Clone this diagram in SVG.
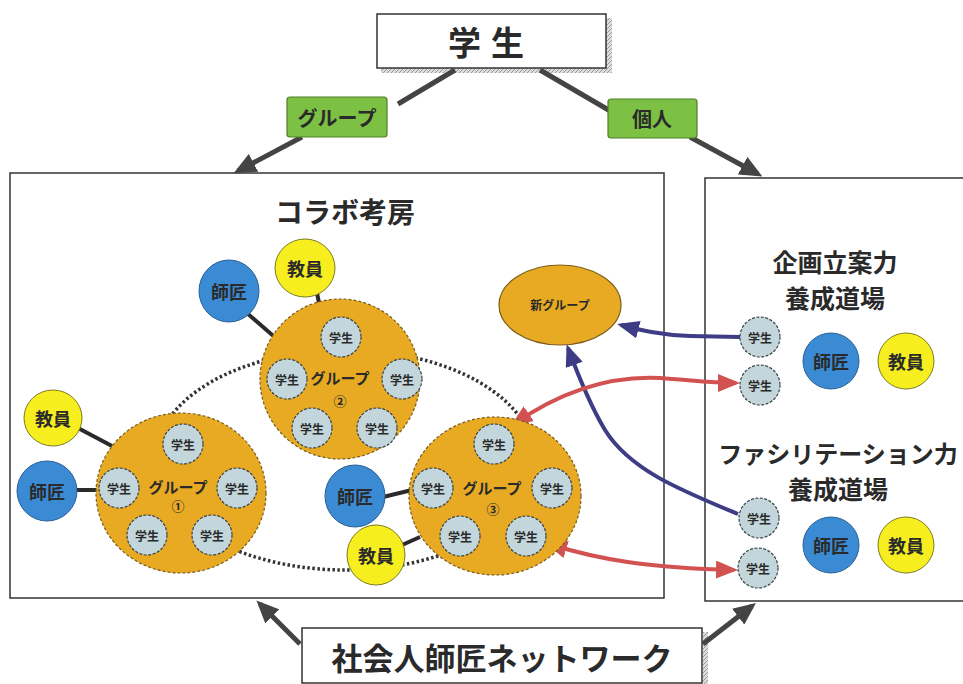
<svg xmlns="http://www.w3.org/2000/svg" width="963" height="684" viewBox="0 0 963 684">
<defs>
<style>
text{font-family:"Noto Sans CJK JP","Noto Sans",sans-serif;font-weight:bold;text-anchor:middle;dominant-baseline:central;fill:#2a2a2a}
.grp{fill:#e8aa22;stroke:#7a5c1a;stroke-width:1.2;stroke-dasharray:3 2}
.stu{fill:#c3d6db;stroke:#3a4448;stroke-width:1.2;stroke-dasharray:3 1.5}
.stu-t{font-size:12px}
.blue{fill:#3b8ad4;stroke:#2a5f96;stroke-width:1}
.yel{fill:#f6ee1e;stroke:#7d7a20;stroke-width:1}
.nt{font-size:18px}
.link{stroke:#2a2a2a;stroke-width:4}
.frame{fill:#fff;stroke:#333;stroke-width:1.5}
.lbl{fill:#7cc143;stroke:#4f7f28;stroke-width:1.2}
.gray{stroke:#444;stroke-width:5;fill:none}
.navy{stroke:#3f3c86;stroke-width:4;fill:none}
.red{stroke:#d25252;stroke-width:4;fill:none}
</style>
<marker id="ag" markerWidth="4.5" markerHeight="4" refX="3.5" refY="2" orient="auto" markerUnits="strokeWidth"><path d="M0,0 L4.5,2 L0,4 z" fill="#444"/></marker>
<marker id="an" markerWidth="5.5" markerHeight="4.5" refX="4.5" refY="2.25" orient="auto" markerUnits="strokeWidth"><path d="M0,0 L5.5,2.25 L0,4.5 z" fill="#3f3c86"/></marker>
<marker id="ar" markerWidth="5.5" markerHeight="4.5" refX="4.5" refY="2.25" orient="auto" markerUnits="strokeWidth"><path d="M0,0 L5.5,2.25 L0,4.5 z" fill="#d25252"/></marker>
<marker id="ars" markerWidth="5.5" markerHeight="4.5" refX="1" refY="2.25" orient="auto" markerUnits="strokeWidth"><path d="M5.5,0 L0,2.25 L5.5,4.5 z" fill="#d25252"/></marker>
<pattern id="hatch" width="4" height="4" patternUnits="userSpaceOnUse"><rect width="4" height="4" fill="#ddd"/><path d="M0,4 L4,0" stroke="#999" stroke-width="1"/></pattern>
</defs>

<!-- frames -->
<g id="collab-box">
<rect class="frame" x="10" y="173" width="654" height="425"/>
<text x="345" y="211" font-size="28">コラボ考房</text>
</g>
<g id="dojo-box">
<rect class="frame" x="705" y="178" width="270" height="423"/>
<text x="835" y="261" font-size="25">企画立案力</text>
<text x="835" y="297" font-size="25">養成道場</text>
<text x="838" y="452" font-size="24">ファシリテーション力</text>
<text x="838" y="488" font-size="25">養成道場</text>
</g>

<g id="student-top">
<rect x="381" y="67" width="231" height="6" fill="url(#hatch)"/>
<rect x="606" y="18" width="6" height="55" fill="url(#hatch)"/>
<rect class="frame" x="377" y="14" width="229" height="54"/>
<text x="491" y="41" font-size="33" letter-spacing="10">学生</text>
</g>

<g id="network">
<rect x="703" y="632" width="5" height="52" fill="url(#hatch)"/>
<rect class="frame" x="302" y="628" width="400" height="55"/>
<text x="502" y="656" font-size="31">社会人師匠ネットワーク</text>
</g>

<!-- connectors -->
<g id="connectors">
<line class="gray" x1="455" y1="70" x2="398" y2="104"/>
<line class="gray" x1="302" y1="137" x2="238" y2="171" marker-end="url(#ag)"/>
<line class="gray" x1="540" y1="70" x2="612" y2="112"/>
<line class="gray" x1="690" y1="137" x2="758" y2="174" marker-end="url(#ag)"/>
<line class="gray" x1="300" y1="644" x2="260" y2="604" marker-end="url(#ag)"/>
<line class="gray" x1="703" y1="644" x2="752" y2="606" marker-end="url(#ag)"/>

<ellipse cx="345" cy="460" rx="190" ry="110" fill="none" stroke="#333" stroke-width="3.5" stroke-dasharray="2.5 2.5"/>

<line class="link" x1="248" y1="314" x2="278" y2="340"/>
<line class="link" x1="317" y1="293" x2="322" y2="318"/>
<line class="link" x1="78" y1="428" x2="112" y2="446"/>
<line class="link" x1="76" y1="490" x2="98" y2="490"/>
<line class="link" x1="383" y1="497" x2="412" y2="490"/>
<line class="link" x1="402" y1="545" x2="420" y2="537"/>

<path class="navy" d="M740,337 L690,336 C660,335 640,330 621,325" marker-end="url(#an)"/>
<path class="navy" d="M738,514 C680,490 630,470 605,430 C590,405 578,375 568,348" marker-end="url(#an)"/>
<path class="red" d="M514,424 C570,385 620,376 660,378 C690,380 710,383 736,383" marker-start="url(#ars)" marker-end="url(#ar)"/>
<path class="red" d="M549,544 C600,560 650,568 734,570" marker-start="url(#ars)" marker-end="url(#ar)"/>
</g>

<!-- labels -->
<g id="label-group">
<rect class="lbl" x="287" y="97" width="100" height="40" rx="3"/>
<text x="337" y="117" font-size="20" font-weight="normal">グループ</text>
</g>
<g id="label-individual">
<rect class="lbl" x="608" y="99" width="89" height="39" rx="3"/>
<text x="652" y="118" font-size="20" font-weight="normal">個人</text>
</g>

<!-- group 2 -->
<g id="group2">
<circle class="grp" cx="340" cy="379" r="80"/>
<text x="340" y="377" font-size="15">グループ</text>
<text x="340" y="400" font-size="13" font-weight="normal">②</text>
<circle class="stu" cx="341" cy="337" r="20"/><text class="stu-t" x="341" y="337">学生</text>
<circle class="stu" cx="287" cy="379" r="20"/><text class="stu-t" x="287" y="379">学生</text>
<circle class="stu" cx="402" cy="379" r="20"/><text class="stu-t" x="402" y="379">学生</text>
<circle class="stu" cx="312" cy="428" r="20"/><text class="stu-t" x="312" y="428">学生</text>
<circle class="stu" cx="377" cy="428" r="20"/><text class="stu-t" x="377" y="428">学生</text>
</g>
<g id="group2-shisho"><ellipse class="blue" cx="229" cy="291" rx="30" ry="31"/><text class="nt" x="229" y="291">師匠</text></g>
<g id="group2-kyoin"><ellipse class="yel" cx="305" cy="268" rx="30" ry="29"/><text class="nt" x="305" y="268">教員</text></g>

<!-- group 1 -->
<g id="group1">
<ellipse class="grp" cx="181" cy="493" rx="85" ry="80"/>
<text x="178" y="486" font-size="15">グループ</text>
<text x="178" y="505" font-size="13" font-weight="normal">①</text>
<circle class="stu" cx="183" cy="444" r="20"/><text class="stu-t" x="183" y="444">学生</text>
<circle class="stu" cx="119" cy="488" r="20"/><text class="stu-t" x="119" y="488">学生</text>
<circle class="stu" cx="237" cy="488" r="20"/><text class="stu-t" x="237" y="488">学生</text>
<circle class="stu" cx="147" cy="535" r="20"/><text class="stu-t" x="147" y="535">学生</text>
<circle class="stu" cx="212" cy="535" r="20"/><text class="stu-t" x="212" y="535">学生</text>
</g>
<g id="group1-kyoin"><ellipse class="yel" cx="53" cy="418" rx="29" ry="28"/><text class="nt" x="53" y="418">教員</text></g>
<g id="group1-shisho"><ellipse class="blue" cx="47" cy="491" rx="30" ry="30"/><text class="nt" x="47" y="491">師匠</text></g>

<!-- group 3 -->
<g id="group3">
<ellipse class="grp" cx="495" cy="496" rx="86" ry="79"/>
<text x="492" y="487" font-size="15">グループ</text>
<text x="493" y="508" font-size="13" font-weight="normal">③</text>
<circle class="stu" cx="494" cy="444" r="20"/><text class="stu-t" x="494" y="444">学生</text>
<circle class="stu" cx="433" cy="488" r="20"/><text class="stu-t" x="433" y="488">学生</text>
<circle class="stu" cx="552" cy="488" r="20"/><text class="stu-t" x="552" y="488">学生</text>
<circle class="stu" cx="460" cy="536" r="20"/><text class="stu-t" x="460" y="536">学生</text>
<circle class="stu" cx="526" cy="536" r="20"/><text class="stu-t" x="526" y="536">学生</text>
</g>
<g id="group3-shisho"><ellipse class="blue" cx="355" cy="496" rx="30" ry="31"/><text class="nt" x="355" y="496">師匠</text></g>
<g id="group3-kyoin"><ellipse class="yel" cx="376" cy="555" rx="29" ry="30"/><text class="nt" x="376" y="555">教員</text></g>

<g id="new-group">
<ellipse class="grp" cx="560" cy="305" rx="61" ry="40" style="stroke-dasharray:none"/>
<text x="560" y="304" font-size="12" font-weight="normal">新グループ</text>
</g>

<!-- right side -->
<g id="dojo1-student1"><circle class="stu" cx="760" cy="337" r="20"/><text class="stu-t" x="760" y="337">学生</text></g>
<g id="dojo1-student2"><circle class="stu" cx="760" cy="385" r="20"/><text class="stu-t" x="760" y="385">学生</text></g>
<g id="dojo1-shisho"><circle class="blue" cx="831" cy="361" r="28"/><text class="nt" x="831" y="361">師匠</text></g>
<g id="dojo1-kyoin"><circle class="yel" cx="906" cy="361" r="28"/><text class="nt" x="906" y="361">教員</text></g>

<g id="dojo2-student1"><circle class="stu" cx="759" cy="518" r="20"/><text class="stu-t" x="759" y="518">学生</text></g>
<g id="dojo2-student2"><circle class="stu" cx="758" cy="568" r="20"/><text class="stu-t" x="758" y="568">学生</text></g>
<g id="dojo2-shisho"><circle class="blue" cx="831" cy="545" r="28"/><text class="nt" x="831" y="545">師匠</text></g>
<g id="dojo2-kyoin"><circle class="yel" cx="906" cy="545" r="28"/><text class="nt" x="906" y="545">教員</text></g>
</svg>
